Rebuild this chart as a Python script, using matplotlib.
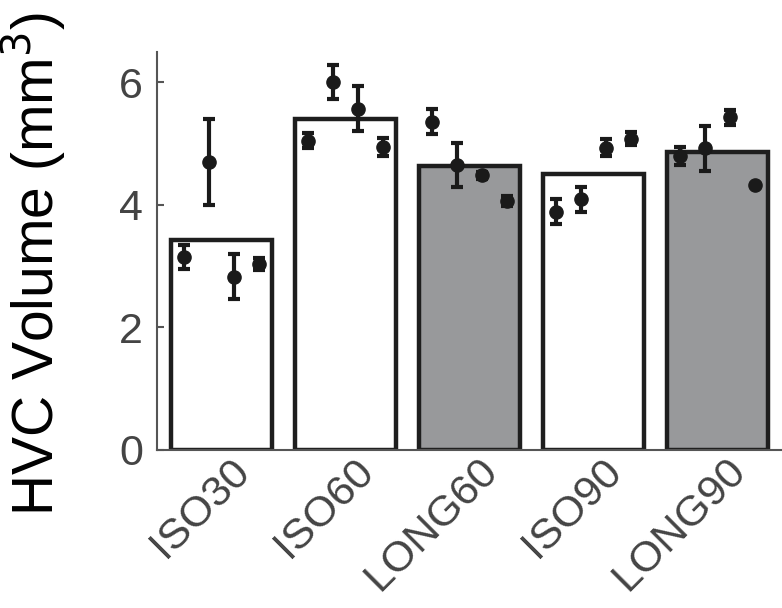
import numpy as np
import matplotlib
matplotlib.use("Agg")
import matplotlib.pyplot as plt
import matplotlib.transforms as mtransforms

plt.rcParams['font.family'] = ['Liberation Sans', 'DejaVu Sans']

# Data
groups = ["ISO30", "ISO60", "LONG60", "ISO90", "LONG90"]
bar_means = [3.43, 5.40, 4.64, 4.50, 4.87]
bar_colors = ["white", "white", "#98999b", "white", "#98999b"]

# four birds per group: mean and error
bird_vals = [
    [3.15, 4.70, 2.83, 3.03],
    [5.05, 6.00, 5.57, 4.94],
    [5.36, 4.65, 4.48, 4.06],
    [3.89, 4.09, 4.93, 5.08],
    [4.80, 4.92, 5.43, 4.33],
]
bird_errs = [
    [0.20, 0.70, 0.37, 0.10],
    [0.12, 0.28, 0.37, 0.15],
    [0.20, 0.36, 0.05, 0.08],
    [0.20, 0.20, 0.14, 0.11],
    [0.15, 0.36, 0.12, 0.00],
]
bird_offsets = [-0.3, -0.1, 0.1, 0.3]

fig = plt.figure(figsize=(7.82, 6.08), dpi=100)
ax = fig.add_axes([0.2008, 0.2599, 0.7992, 0.6551])

x = np.arange(len(groups))
ax.bar(x, bar_means, width=0.81, color=bar_colors, edgecolor="#1e1e1e",
       linewidth=3.2, zorder=2)

for i in range(len(groups)):
    xs = x[i] + np.array(bird_offsets)
    ax.errorbar(xs, bird_vals[i], yerr=bird_errs[i], fmt="o", color="#1a1a1a",
                markersize=9.5, elinewidth=3, capsize=4.5, capthick=3, zorder=3)

ax.set_xlim(-0.52, 4.52)
ax.set_ylim(0, 6.5)
ax.set_yticks([0, 2, 4, 6])
ax.set_xticks(x)
ax.set_xticklabels(groups, rotation=45, ha="right", va="center",
                   rotation_mode="anchor")

axis_gray = "#555555"
ax.spines["top"].set_visible(False)
ax.spines["right"].set_visible(False)
ax.spines["left"].set_color(axis_gray)
ax.spines["bottom"].set_color(axis_gray)
ax.spines["left"].set_linewidth(1.5)
ax.spines["bottom"].set_linewidth(1.5)
ax.tick_params(axis="y", direction="in", length=5, width=1.5, color=axis_gray,
               labelsize=31, labelcolor="#444444", pad=10)
ax.tick_params(axis="x", length=0, labelsize=31, labelcolor="#444444", pad=12)

# shift the rotated labels so their end sits by the bar centre
offset = mtransforms.ScaledTranslation(22 / 100, 2 / 100, fig.dpi_scale_trans)
for lab in ax.get_xticklabels():
    lab.set_transform(lab.get_transform() + offset)

ax.set_ylabel("HVC Volume (mm$^3$)", fontsize=41, color="black")
ax.yaxis.set_label_coords(-0.142, 0.468)

fig.savefig("out.png", dpi=100)
